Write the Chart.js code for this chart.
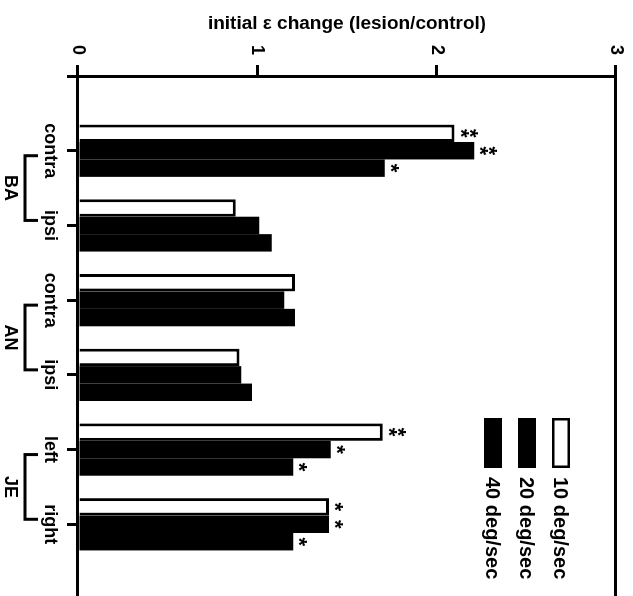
<!DOCTYPE html>
<html>
<head>
<meta charset="utf-8">
<script src="https://cdn.jsdelivr.net/npm/chart.js@4.4.1/dist/chart.umd.min.js"></script>
<style>
  html, body { margin: 0; padding: 0; background: #fff; width: 633px; height: 596px; overflow: hidden; }
  #wrap { position: absolute; left: 0; top: 0; width: 599px; height: 633px;
          transform-origin: 0 0; transform: translate(633px, 0) rotate(90deg); }
  canvas { display: block; }
</style>
</head>
<body>
<div id="wrap"><canvas id="c" width="599" height="633"></canvas></div>
<script>
// ---- data ----
const categories = ['contra', 'ipsi', 'contra', 'ipsi', 'left', 'right'];
const groups = ['BA', 'AN', 'JE'];
const seriesNames = ['10 deg/sec', '20 deg/sec', '40 deg/sec'];
const values10 = [2.10, 0.88, 1.21, 0.90, 1.70, 1.40];
const values20 = [2.21, 1.01, 1.15, 0.91, 1.41, 1.40];
const values40 = [1.71, 1.08, 1.21, 0.97, 1.20, 1.20];
const stars10 = ['**', '', '', '', '**', '*'];
const stars20 = ['**', '', '', '', '*', '*'];
const stars40 = ['*', '', '', '', '*', '*'];
const valueTicks = [0, 1, 2, 3];
const axisTitle = 'initial ε change (lesion/control)';

// padded category axis (empty slot before and after)
const labels = [''].concat(categories, ['']);
const pad = arr => [null].concat(arr, [null]);
const starSets = [stars10, stars20, stars40];

Chart.defaults.font.family = '"Liberation Sans", Arial, sans-serif';
Chart.defaults.color = '#000';

const starPlugin = {
  id: 'stars',
  afterDatasetsDraw(chart, args, o) {
    const ctx = chart.ctx;
    ctx.save();
    ctx.fillStyle = '#000';
    ctx.font = o.font;
    ctx.textAlign = 'center';
    ctx.textBaseline = 'alphabetic';
    chart.data.datasets.forEach((ds, i) => {
      const meta = chart.getDatasetMeta(i);
      const st = starSets[i];
      meta.data.forEach((el, j) => {
        const s = st[j - 1];
        if (!s) return;
        for (let k = 0; k < s.length; k++) {
          ctx.fillText('*', el.x, el.y - o.gap - k * o.step + o.shift);
        }
      });
    });
    ctx.restore();
  }
};

const groupPlugin = {
  id: 'groups',
  afterDraw(chart, args, o) {
    const ctx = chart.ctx;
    const xs = chart.scales.x;
    const base = chart.chartArea.bottom;
    ctx.save();
    ctx.strokeStyle = '#000';
    ctx.fillStyle = '#000';
    ctx.lineWidth = o.lineWidth;
    ctx.lineCap = 'butt';
    ctx.lineJoin = 'miter';
    ctx.font = o.font;
    ctx.textAlign = 'center';
    ctx.textBaseline = 'middle';
    groups.forEach((g, k) => {
      const a = xs.getPixelForValue(1 + 2 * k) + o.inset;
      const b = xs.getPixelForValue(2 + 2 * k) - o.inset;
      ctx.beginPath();
      ctx.moveTo(a, base + o.endOffset);
      ctx.lineTo(a, base + o.lineOffset);
      ctx.lineTo(b, base + o.lineOffset);
      ctx.lineTo(b, base + o.endOffset);
      ctx.stroke();
      ctx.fillText(g, (a + b) / 2, base + o.labelOffset);
    });
    ctx.restore();
  }
};

const innerLegend = {
  id: 'innerLegend',
  afterDraw(chart, args, o) {
    const { ctx, chartArea } = chart;
    ctx.save();
    ctx.font = o.font;
    ctx.textBaseline = 'middle';
    ctx.textAlign = 'left';
    chart.data.datasets.forEach((ds, i) => {
      const cy = chartArea.top + o.top + i * o.spacing;
      const x = chartArea.left + o.left;
      ctx.fillStyle = ds.backgroundColor;
      ctx.fillRect(x, cy - o.boxH / 2, o.boxW, o.boxH);
      if (ds.borderWidth) {
        ctx.lineWidth = o.lineWidth;
        ctx.strokeStyle = ds.borderColor;
        ctx.strokeRect(x + o.lineWidth / 2, cy - o.boxH / 2 + o.lineWidth / 2,
                       o.boxW - o.lineWidth, o.boxH - o.lineWidth);
      }
      ctx.fillStyle = '#000';
      ctx.fillText(ds.label, x + o.boxW + o.textGap, cy + 1);
    });
    ctx.restore();
  }
};

new Chart(document.getElementById('c'), {
  type: 'bar',
  data: {
    labels: labels,
    datasets: [
      { label: seriesNames[0], data: pad(values10), backgroundColor: '#ffffff',
        borderColor: '#000000', borderWidth: 3 },
      { label: seriesNames[1], data: pad(values20), backgroundColor: '#000000',
        borderColor: '#000000', borderWidth: 0 },
      { label: seriesNames[2], data: pad(values40), backgroundColor: '#000000',
        borderColor: '#000000', borderWidth: 0 }
    ]
  },
  options: {
    responsive: false,
    devicePixelRatio: 1,
    animation: false,
    events: [],
    layout: { padding: { top: 17, right: 0, bottom: 0, left: 0 } },
    datasets: { bar: { categoryPercentage: 0.7, barPercentage: 1.0 } },
    scales: {
      x: {
        type: 'category',
        offset: false,
        z: 1,
        border: { display: true, color: '#000', width: 3 },
        grid: { display: true, offset: false, drawOnChartArea: false, drawTicks: true,
                tickLength: 11, tickWidth: 3, tickColor: '#000' },
        ticks: { autoSkip: false, maxRotation: 0, minRotation: 0, padding: 6,
                 font: { size: 18, weight: 'bold' }, color: '#000' },
        afterFit(scale) { scale.height = 78; scale.paddingLeft = 0; scale.paddingRight = 0; }
      },
      y: {
        min: valueTicks[0],
        max: valueTicks[valueTicks.length - 1],
        border: { display: true, color: '#000', width: 3 },
        grid: { display: true, drawOnChartArea: true, drawTicks: true,
                tickLength: 11, tickWidth: 3, tickColor: '#000', lineWidth: 3,
                color: c => (c.tick && c.tick.value === valueTicks[valueTicks.length - 1]) ? '#000' : 'rgba(0,0,0,0)' },
        ticks: { stepSize: 1, padding: 10, font: { size: 18, weight: 'bold' }, color: '#000' },
        title: { display: true, text: axisTitle, font: { size: 19, weight: 'bold' },
                 color: '#000', padding: { top: 12, bottom: 0 } },
        afterFit(scale) { scale.width = 76; scale.paddingTop = 0; scale.paddingBottom = 0; }
      }
    },
    plugins: {
      legend: { display: false },
      tooltip: { enabled: false },
      stars: { font: 'bold 22px "Liberation Sans", Arial, sans-serif', gap: 11, step: 9, shift: 12 },
      groups: { font: 'bold 18px "Liberation Sans", Arial, sans-serif', lineWidth: 3,
                inset: 5, lineOffset: 53, endOffset: 40, labelOffset: 68 },
      innerLegend: { font: 'bold 20px "Liberation Sans", Arial, sans-serif', left: 342, top: 55,
                     spacing: 34, boxW: 50, boxH: 18, lineWidth: 2.5, textGap: 9 }
    }
  },
  plugins: [starPlugin, groupPlugin, innerLegend]
});
</script>
</body>
</html>
